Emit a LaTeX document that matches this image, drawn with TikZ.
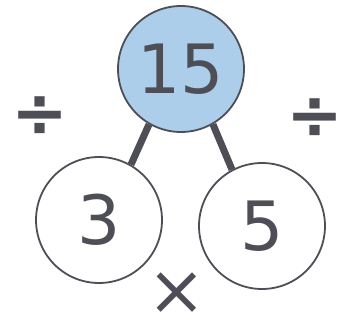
\documentclass[tikz,border=0pt]{standalone}
\usepackage{fontspec}
\setmainfont{DejaVu Sans}
\definecolor{ink}{RGB}{78,78,86}
\definecolor{fillblue}{RGB}{172,206,234}
\tikzset{
  numcircle/.style={circle, draw=ink, line width=1.8pt, minimum size=126pt, inner sep=0pt, text=ink, font=\fontsize{68}{68}\selectfont},
  link/.style={draw=ink, line width=7pt},
  opsign/.style={text=ink, inner sep=0pt, font=\bfseries\fontsize{68}{68}\selectfont}
}
\begin{document}
\begin{tikzpicture}[x=1pt,y=-1pt]
  \useasboundingbox (0,0) rectangle (345,336);
  \node[numcircle, fill=fillblue] (top) at (181,69) {15};
  \node[numcircle, fill=white] (left) at (99,220) {3};
  \node[numcircle, fill=white] (right) at (262,226) {5};
  \path[link] (top.240) -- (left.60);
  \path[link] (top.300) -- (right.118);
  \node[opsign] (divl) at (40,117) {÷};
  \node[opsign] (divr) at (315,119) {÷};
  \node[opsign, font=\fontsize{70}{70}\selectfont] (times) at (177,294) {×};
\end{tikzpicture}
\end{document}
